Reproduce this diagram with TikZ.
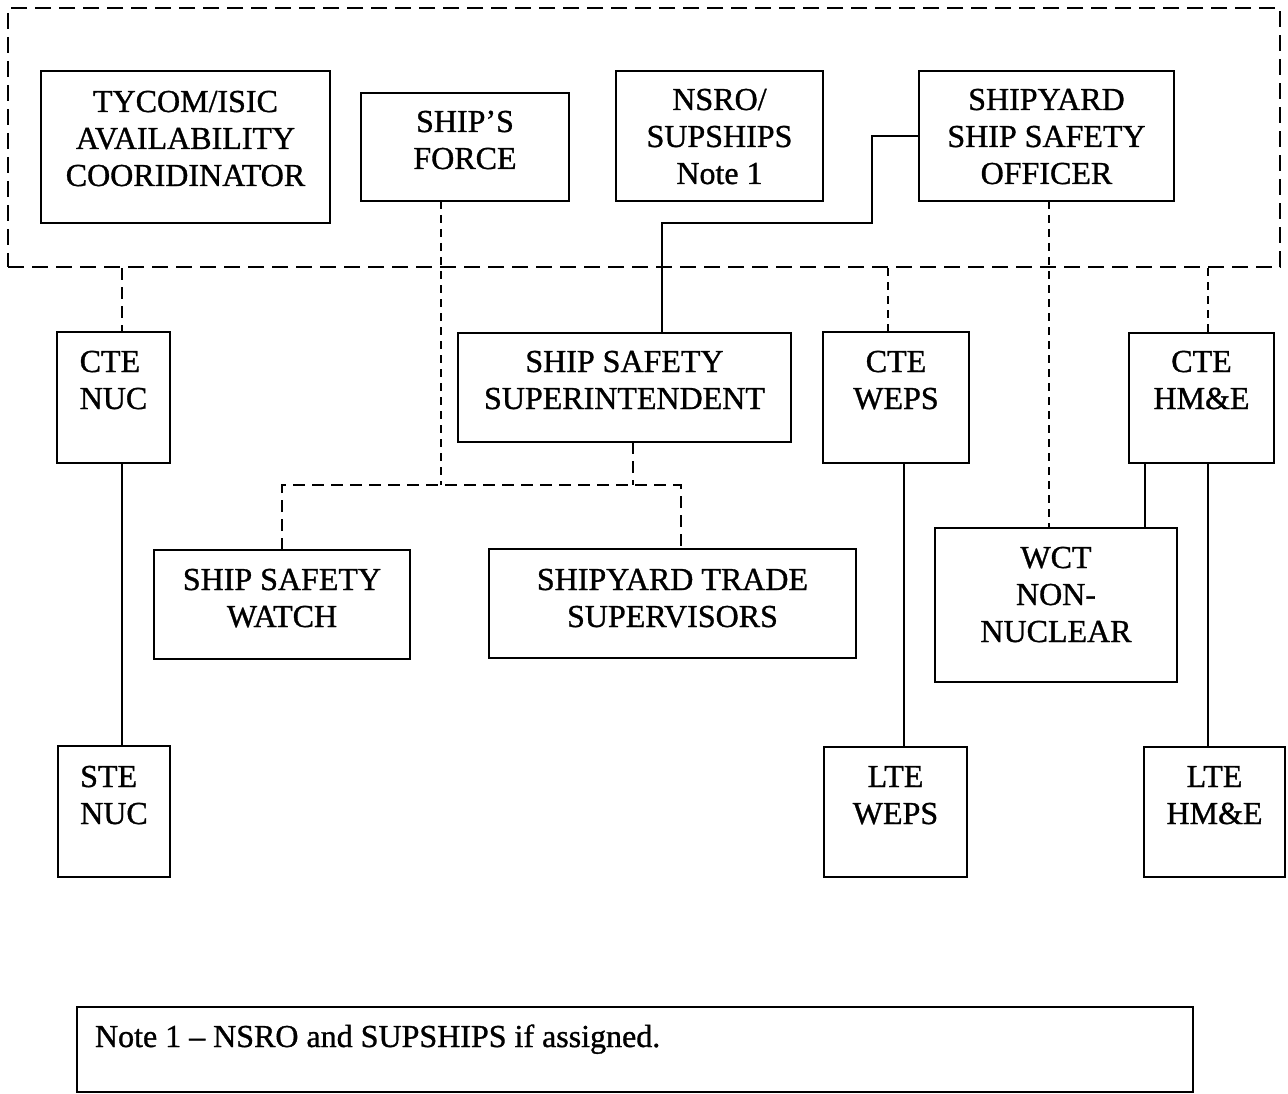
\documentclass[tikz,border=0pt]{standalone}
\usepackage{fontspec}
\setmainfont{Liberation Serif}[FakeBold=1.0]
\newcommand{\bxt}[4]{\parbox[c][#2pt][t]{#1pt}{\centering\vspace*{#3pt}\rule{0pt}{26pt}#4}}
\newcommand{\lft}[1]{\begin{tabular}[t]{@{}l@{}}#1\end{tabular}}
\begin{document}
\begin{tikzpicture}[x=1pt,y=-1pt,
  bx/.style={draw, line width=2.4pt, inner sep=0pt, outer sep=0pt, font=\fontsize{32}{37}\selectfont},
  grpbox/.style={draw, line width=2.2pt, dash pattern=on 16pt off 8pt, inner sep=0pt, minimum width=1272pt, minimum height=259pt},
  solidc/.style={line width=2pt},
  dshc/.style={line width=2pt, dash pattern=on 12pt off 7pt},
  dshs/.style={line width=2pt, dash pattern=on 8pt off 6pt}]
\fill[white] (0,0) rectangle (1288,1094);
\useasboundingbox (0,0) rectangle (1288,1094);

% group box
\node[grpbox] (grp) at (644,137.5) {};

% top row
\node[bx] (tycom) at (185.5,147) {\bxt{289}{152}{15}{TYCOM/ISIC\\AVAILABILITY\\COORIDINATOR}};
\node[bx] (sf) at (465,147) {\bxt{208}{108}{13}{SHIP’S\\FORCE}};
\node[bx] (nsro) at (719.5,136) {\bxt{207}{130}{13}{NSRO/\\SUPSHIPS\\Note 1}};
\node[bx] (sso) at (1046.5,136) {\bxt{255}{130}{13}{SHIPYARD\\SHIP SAFETY\\OFFICER}};

% second row
\node[bx] (nuc) at (113.5,397.5) {\bxt{113}{131}{14}{\lft{CTE\\NUC}}};
\node[bx] (sss) at (624.5,387.5) {\bxt{333}{109}{13}{SHIP SAFETY\\SUPERINTENDENT}};
\node[bx] (weps) at (896,397.5) {\bxt{146}{131}{14}{CTE\\WEPS}};
\node[bx] (hme) at (1201.5,398) {\bxt{145}{130}{13}{CTE\\HM\&E}};

% third row
\node[bx] (ssw) at (282,604.5) {\bxt{256}{109}{14}{SHIP SAFETY\\WATCH}};
\node[bx] (syts) at (672.5,603.5) {\bxt{367}{109}{15}{SHIPYARD TRADE\\SUPERVISORS}};
\node[bx] (wct) at (1056,605) {\bxt{242}{154}{14}{WCT\\NON-\\NUCLEAR}};

% bottom row
\node[bx] (ste) at (114,811.5) {\bxt{112}{131}{15}{\lft{STE\\NUC}}};
\node[bx] (ltew) at (895.5,812) {\bxt{143}{130}{14}{LTE\\WEPS}};
\node[bx] (lteh) at (1214.5,812) {\bxt{141}{130}{14}{LTE\\HM\&E}};

% note
\node[bx] (note) at (635,1049.5) {\parbox[c][85pt][t]{1116pt}{\raggedright\vspace*{14pt}\hspace*{18pt}\rule{0pt}{26pt}Note 1 – NSRO and SUPSHIPS if assigned.}};

% junction coordinates
\coordinate (jl) at (282,485);
\coordinate (jr) at (681,485);
\coordinate (jm) at (441,485);
\coordinate (js) at (633,485);
\coordinate (k1) at (872,136);
\coordinate (k2) at (872,223);
\coordinate (k3) at (662,223);

% dashed connectors
\draw[dshc] (grp.south -| 122,0) -- (nuc.north -| 122,0);
\draw[dshs] (sf.south -| jm) -- (jm);
\draw[dshc] (ssw.north) -- (jl) -- (jr) -- (syts.north -| jr);
\draw[dshc] (sss.south -| js) -- (js);
\draw[dshs] (sso.south -| 1049,0) -- (wct.north -| 1049,0);
\draw[dshs] (grp.south -| 888,0) -- (weps.north -| 888,0);
\draw[dshs] (grp.south -| 1208,0) -- (hme.north -| 1208,0);

% solid connectors
\draw[solidc] (sso.west) -- (k1) -- (k2) -- (k3) -- (sss.north -| k3);
\draw[solidc] (nuc.south -| 122,0) -- (ste.north -| 122,0);
\draw[solidc] (weps.south -| 904,0) -- (ltew.north -| 904,0);
\draw[solidc] (hme.south -| 1208,0) -- (lteh.north -| 1208,0);
\draw[solidc] (hme.south -| 1145,0) -- (wct.north -| 1145,0);
\end{tikzpicture}
\end{document}
